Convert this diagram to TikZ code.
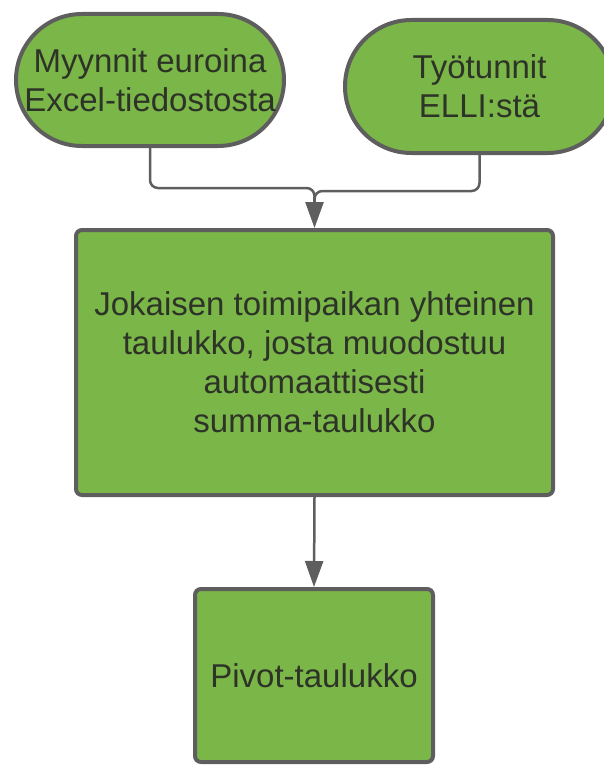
\documentclass[tikz,border=0pt]{standalone}
\usepackage{fontspec}
\setmainfont{Liberation Sans}
\usetikzlibrary{arrows.meta,shapes.misc}

\definecolor{leafgreen}{HTML}{7AB648}
\definecolor{edgegray}{HTML}{5E5E5E}
\definecolor{inkgray}{HTML}{2E3328}

\begin{document}
\begin{tikzpicture}[
  x=1pt, y=-1pt,
  source/.style={rounded rectangle, draw=edgegray, line width=4pt, fill=leafgreen, align=center, text=inkgray, font=\fontsize{33}{39}\selectfont, inner sep=0pt},
  box/.style={rectangle, rounded corners=6pt, draw=edgegray, line width=4pt, fill=leafgreen, align=center, text=inkgray, font=\fontsize{33}{39}\selectfont, inner sep=0pt},
  channel/.style={line width=2.5pt, draw=edgegray, rounded corners=8pt},
  flow/.style={-{Triangle[length=26pt,width=18pt]}, line width=2.5pt, draw=edgegray}
]
\useasboundingbox (0,0) rectangle (604,765);
\clip (0,0) rectangle (604,765);

\node[source, minimum width=268pt, minimum height=132pt] (sales) at (150,80) {Myynnit euroina\\Excel-tiedostosta};
\node[source, minimum width=269pt, minimum height=133pt] (hours) at (479.5,86.5) {Työtunnit\\ELLI:stä};

\node[box, minimum width=477pt, minimum height=265pt] (table) at (314.5,362.5) {Jokaisen toimipaikan yhteinen\\taulukko, josta muodostuu\\automaattisesti\\summa-taulukko};
\node[box, minimum width=238pt, minimum height=173pt] (pivot) at (314,675.5) {Pivot-taulukko};

\coordinate (merge) at (314.5,191);

\draw[channel] (sales.south) -- ++(0,40) -| ([yshift=-12pt]merge);
\draw[channel] (hours.south) -- ++(0,36) -| ([yshift=-12pt]merge);
\draw[flow] ([yshift=-6pt]merge) -- (table.north);

\draw[flow] (table.south) -- (pivot.north);

\end{tikzpicture}
\end{document}
